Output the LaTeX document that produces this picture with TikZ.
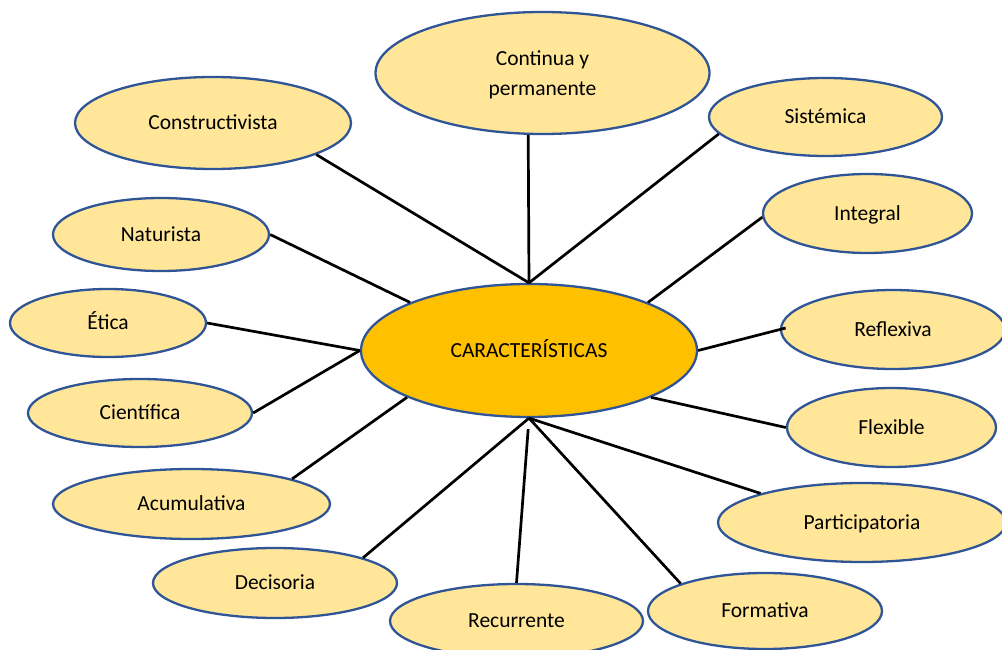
\documentclass[tikz,border=0pt]{standalone}
\usepackage{fontspec}
\setmainfont{Carlito}
\usetikzlibrary{shapes.geometric}
\definecolor{lightfill}{HTML}{FFE699}
\definecolor{borderblue}{HTML}{2F5597}
\definecolor{centerfill}{HTML}{FFC000}
\begin{document}
\begin{tikzpicture}[x=1pt,y=-1pt,
  bubble/.style={ellipse, draw=borderblue, line width=2.3pt, fill=lightfill, inner sep=0pt,
    font=\fontsize{21.5}{30}\selectfont, text height=13.8pt, text depth=0pt},
  link/.style={line width=2.7pt, black}]
\useasboundingbox (0,0) rectangle (1002,650);
% nodes
\node[bubble, fill=centerfill, minimum width=336pt, minimum height=133pt] (c) at (529,350.5) {CARACTERÍSTICAS};
\node[bubble, minimum width=334pt, minimum height=122pt, text height=, text depth=-2pt, align=center] (cont) at (542.5,73) {Continua y\\permanente};
\node[bubble, minimum width=276pt, minimum height=92pt] (cons) at (213,123) {Constructivista};
\node[bubble, minimum width=233pt, minimum height=78pt] (sis) at (825.5,117) {Sistémica};
\node[bubble, minimum width=209pt, minimum height=79pt] (integ) at (867.5,213.5) {Integral};
\node[bubble, minimum width=216pt, minimum height=73pt] (nat) at (161,234.5) {Naturista};
\node[bubble, minimum width=196pt, minimum height=68pt] (etica) at (108,323) {Ética};
\node[bubble, minimum width=224pt, minimum height=68pt] (cient) at (140,413) {Científica};
\node[bubble, minimum width=277pt, minimum height=70pt] (acum) at (191.5,504) {Acumulativa};
\node[bubble, minimum width=244pt, minimum height=70pt] (dec) at (275,583) {Decisoria};
\node[bubble, minimum width=253pt, minimum height=74pt] (rec) at (516.5,621) {Recurrente};
\node[bubble, minimum width=234pt, minimum height=76pt] (form) at (765,611) {Formativa};
\node[bubble, minimum width=288pt, minimum height=79pt] (part) at (862,522.5) {Participatoria};
\node[bubble, minimum width=209pt, minimum height=79pt] (flex) at (891.5,427.5) {Flexible};
\node[bubble, minimum width=224pt, minimum height=79pt] (refl) at (893,329.5) {Reflexiva};
% connectors
\draw[link] (c.north) -- (cons.-17.9);
\draw[link] (c.north) -- (cont.257);
\draw[link] (c.north) -- (sis.189.7);
\draw[link] (c.22.65) -- (integ.182.5);
\draw[link] (c.158.2) -- (nat.east);
\draw[link] (c.west) -- (etica.east);
\draw[link] (c.west) -- (cient.east);
\draw[link] (c.201.6) -- (acum.14.4);
\draw[link] (c.south) -- (dec.16.6);
\draw[link, shorten <=11pt] (c.south) -- (rec.north);
\draw[link] (c.south) -- (form.162.6);
\draw[link] (c.south) -- (part.164.1);
\draw[link] (c.-21.9) -- (flex.west);
\draw[link, shorten >=-6pt] (c.east) -- (refl.west);
\end{tikzpicture}
\end{document}
